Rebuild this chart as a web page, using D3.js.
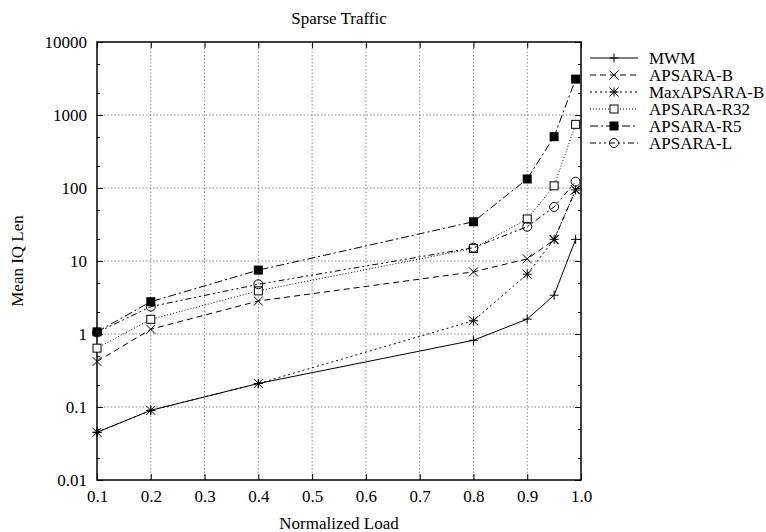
<!DOCTYPE html>
<html>
<head>
<meta charset="utf-8">
<script src="https://cdn.jsdelivr.net/npm/d3@7"></script>
<style>
  body { margin: 0; background: #fff; }
  svg text { font-family: "Liberation Serif", "Times New Roman", serif; fill: #000; }
</style>
</head>
<body>
<svg id="chart"></svg>
<script>
const width = 766, height = 532;

// data
const loads = [0.1, 0.2, 0.4, 0.8, 0.9, 0.95, 0.99];
const seriesNames = ["MWM", "APSARA-B", "MaxAPSARA-B", "APSARA-R32", "APSARA-R5", "APSARA-L"];
const mwm        = [0.045, 0.09, 0.21, 0.82, 1.6, 3.4, 19.8];
const apsaraB    = [0.42, 1.16, 2.83, 7.1, 10.7, 19.5, 94];
const maxApsaraB = [0.045, 0.09, 0.21, 1.52, 6.6, 19.8, 94];
const apsaraR32  = [0.64, 1.59, 3.9, 14.9, 37.6, 107, 745];
const apsaraR5   = [1.07, 2.77, 7.5, 34.5, 133, 505, 3100];
const apsaraL    = [1.05, 2.37, 4.8, 15.2, 29.5, 55, 122];
const seriesValues = [mwm, apsaraB, maxApsaraB, apsaraR32, apsaraR5, apsaraL];

const xTicks = [0.1, 0.2, 0.3, 0.4, 0.5, 0.6, 0.7, 0.8, 0.9, 1.0];
const yTicks = [0.01, 0.1, 1, 10, 100, 1000, 10000];
const yTickLabels = ["0.01", "0.1", "1", "10", "100", "1000", "10000"];

const dashes  = [null, "6,4", "2,3", "1,2", "8,3,2,3", "6,3,2,3,2,3"];
const markers = ["plus", "cross", "star", "square", "fsquare", "circle"];

const plotL = 97, plotR = 581, plotT = 42, plotB = 480;

const x = d3.scaleLinear().domain([0.1, 1.0]).range([plotL, plotR]);
const y = d3.scaleLog().domain([0.01, 10000]).range([plotB, plotT]);

const svg = d3.select("#chart")
              .attr("width", width)
              .attr("height", height);

// grid
const grid = svg.append("g").attr("stroke", "#888").attr("stroke-width", 1)
                .attr("stroke-dasharray", "1.5,2");
grid.selectAll(".gx").data(xTicks.slice(1, -1)).enter().append("line")
    .attr("x1", d => x(d)).attr("x2", d => x(d))
    .attr("y1", plotB).attr("y2", plotT);
grid.selectAll(".gy").data(yTicks.slice(1, -1)).enter().append("line")
    .attr("x1", plotL).attr("x2", plotR)
    .attr("y1", d => y(d)).attr("y2", d => y(d));

// minor log ticks at 2 and 5
const minor = [];
yTicks.slice(0, -1).forEach(t => { minor.push(t * 2, t * 5); });

function styleAxis(g) {
  g.select(".domain").remove();
  g.selectAll("line").attr("stroke", "#000").attr("stroke-width", 1);
  g.selectAll("text").style("font-size", "17px").attr("font-family", null);
}

svg.append("g").attr("transform", `translate(0,${plotB})`)
   .call(d3.axisBottom(x).tickValues(xTicks).tickFormat(d3.format(".1f")).tickSize(-6).tickPadding(10))
   .call(styleAxis);
svg.append("g").attr("transform", `translate(0,${plotT})`)
   .call(d3.axisTop(x).tickValues(xTicks).tickFormat("").tickSize(-6))
   .call(styleAxis);
svg.append("g").attr("transform", `translate(${plotL},0)`)
   .call(d3.axisLeft(y).tickValues(yTicks).tickFormat((d, i) => yTickLabels[i]).tickSize(-6).tickPadding(10))
   .call(styleAxis);
svg.append("g").attr("transform", `translate(${plotR},0)`)
   .call(d3.axisRight(y).tickValues(yTicks).tickFormat("").tickSize(-6))
   .call(styleAxis);
svg.append("g").attr("transform", `translate(${plotL},0)`)
   .call(d3.axisLeft(y).tickValues(minor).tickFormat("").tickSize(-3))
   .call(styleAxis);
svg.append("g").attr("transform", `translate(${plotR},0)`)
   .call(d3.axisRight(y).tickValues(minor).tickFormat("").tickSize(-3))
   .call(styleAxis);

// frame
svg.append("rect")
   .attr("x", plotL).attr("y", plotT)
   .attr("width", plotR - plotL).attr("height", plotB - plotT)
   .attr("fill", "none").attr("stroke", "#000").attr("stroke-width", 1.5);

// markers
function drawMarker(g, type, cx, cy) {
  const s = 4.5;
  if (type === "plus") {
    g.append("path").attr("d", `M${cx - s},${cy}H${cx + s}M${cx},${cy - s}V${cy + s}`)
     .attr("stroke", "#000").attr("fill", "none");
  } else if (type === "cross") {
    g.append("path").attr("d", `M${cx - s},${cy - s}L${cx + s},${cy + s}M${cx - s},${cy + s}L${cx + s},${cy - s}`)
     .attr("stroke", "#000").attr("fill", "none");
  } else if (type === "star") {
    g.append("path").attr("d", `M${cx - s},${cy - s}L${cx + s},${cy + s}M${cx - s},${cy + s}L${cx + s},${cy - s}M${cx - s},${cy}H${cx + s}M${cx},${cy - s}V${cy + s}`)
     .attr("stroke", "#000").attr("fill", "none");
  } else if (type === "square") {
    g.append("rect").attr("x", cx - 4).attr("y", cy - 4).attr("width", 8).attr("height", 8)
     .attr("stroke", "#000").attr("fill", "#fff");
  } else if (type === "fsquare") {
    g.append("rect").attr("x", cx - 4.5).attr("y", cy - 4.5).attr("width", 9).attr("height", 9)
     .attr("fill", "#000");
  } else if (type === "circle") {
    g.append("circle").attr("cx", cx).attr("cy", cy).attr("r", 4.5)
     .attr("stroke", "#000").attr("fill", "none");
  }
}

const line = d3.line().x(d => x(d[0])).y(d => y(d[1]));

seriesNames.forEach((name, i) => {
  const pts = loads.map((l, j) => [l, seriesValues[i][j]]);
  const g = svg.append("g");
  g.append("path").datum(pts)
   .attr("d", line)
   .attr("fill", "none")
   .attr("stroke", "#000")
   .attr("stroke-width", 1)
   .attr("stroke-dasharray", dashes[i]);
  pts.forEach(p => drawMarker(g, markers[i], x(p[0]), y(p[1])));
});

// legend
const legend = svg.append("g");
seriesNames.forEach((name, i) => {
  const ly = 58 + i * 17;
  legend.append("line")
        .attr("x1", 590).attr("x2", 638).attr("y1", ly).attr("y2", ly)
        .attr("stroke", "#000").attr("stroke-width", 1)
        .attr("stroke-dasharray", dashes[i]);
  drawMarker(legend, markers[i], 614, ly);
  legend.append("text")
        .attr("x", 649).attr("y", ly).attr("dy", "0.35em")
        .style("font-size", "17px")
        .text(name);
});

// titles
svg.append("text")
   .attr("x", (plotL + plotR) / 2).attr("y", 18).attr("dy", "0.35em")
   .attr("text-anchor", "middle").style("font-size", "17px")
   .text("Sparse Traffic");
svg.append("text")
   .attr("x", (plotL + plotR) / 2).attr("y", 523).attr("dy", "0.35em")
   .attr("text-anchor", "middle").style("font-size", "17px")
   .text("Normalized Load");
svg.append("text")
   .attr("transform", `translate(17,${(plotT + plotB) / 2}) rotate(-90)`)
   .attr("dy", "0.35em")
   .attr("text-anchor", "middle").style("font-size", "17px")
   .text("Mean IQ Len");
</script>
</body>
</html>
